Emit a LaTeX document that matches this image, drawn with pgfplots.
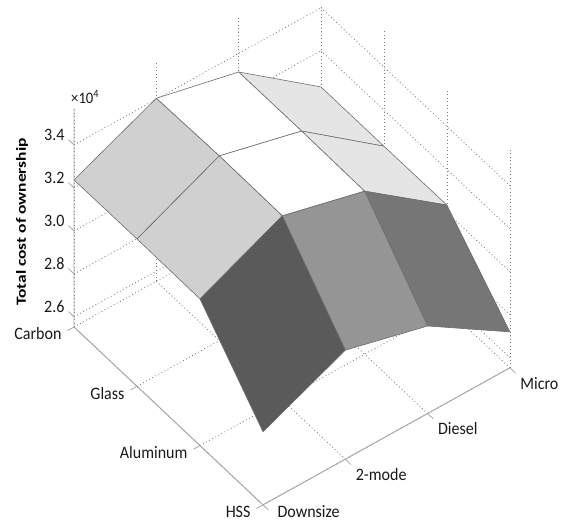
\documentclass[border=0pt]{standalone}
\usepackage{pgfplots}
\pgfplotsset{compat=1.18}
\usepackage{pgfplotstable}
\usepackage{fontspec}
\setmainfont[FakeStretch=0.92]{Carlito}
\newfontfamily\lab[FakeStretch=1.25]{Carlito}
\definecolor{axl}{HTML}{A7A9AC}
\definecolor{edge}{HTML}{6D6E70}
\pgfplotstableread{
x y z c
0 3 3.032 0.89
0 2 3.314 0.89
1 2 3.315 0.89
1 3 3.032 0.89
0 2 3.314 1.00
0 1 3.404 1.00
1 1 3.412 1.00
1 2 3.315 1.00
0 1 3.404 0.81
0 0 3.237 0.81
1 0 3.238 0.81
1 1 3.412 0.81
1 3 3.032 0.89
1 2 3.315 0.89
2 2 3.311 0.89
2 3 3.034 0.89
1 2 3.315 1.00
1 1 3.412 1.00
2 1 3.409 1.00
2 2 3.311 1.00
1 1 3.412 0.81
1 0 3.238 0.81
2 0 3.235 0.81
2 1 3.409 0.81
2 3 3.034 0.46
2 2 3.311 0.46
3 2 2.960 0.46
3 3 2.720 0.46
2 2 3.311 0.58
2 1 3.409 0.58
3 1 3.060 0.58
3 2 2.960 0.58
2 1 3.409 0.35
2 0 3.235 0.35
3 0 2.893 0.35
3 1 3.060 0.35
}\patches
\begin{document}
\begin{tikzpicture}[x=1bp,y=1bp]
\path[use as bounding box] (0,0) rectangle (568,524);
\clip (0,0) rectangle (568,517);
\begin{axis}[
  at={(74bp,197bp)}, anchor=origin,
  disabledatascaling,
  x={(63bp,-59.3bp)}, y={(82.3bp,45.7bp)}, z={(0bp,215bp)},
  xmin=0,xmax=3,ymin=0,ymax=3,zmin=2.553,zmax=3.57,
  clip=false,
  axis line style={draw=none},
  xtick={0,1,2,3}, ytick={1,2,3}, ztick={2.6,2.8,3.0,3.2,3.4},
  extra y ticks={0}, extra y tick labels={},
  xticklabels={Carbon,Glass,Aluminum,HSS},
  yticklabels={2-mode,Diesel,Micro},
  tick style={draw=none},
  major tick length=0pt,
  grid=major,
  grid style={dash pattern=on 0.9bp off 2.6bp,draw=black!52,line width=0.8pt},
  ticklabel style={font=\fontsize{17.5}{17.5}\selectfont,text=black!90},
  xticklabel style={anchor=east,xshift=-9bp,yshift=-7bp},
  yticklabel style={anchor=west,xshift=7bp,yshift=-15.5bp},
  zticklabel style={anchor=east,xshift=-6bp,yshift=10bp,/pgf/number format/fixed,/pgf/number format/fixed zerofill,/pgf/number format/precision=1},
  /pgf/number format/assume math mode=true,
  colormap={g}{gray(0cm)=(0); gray(1cm)=(1)},
  point meta min=0, point meta max=1,
]
\addplot3[patch,patch type=rectangle,shader=faceted,faceted color=edge,line width=0.6pt,point meta=explicit]
  table[x=x,y=y,z=z,meta=c]{\patches};
\addplot3[draw=axl,line width=1pt] coordinates {(0,0,3.57) (0,0,2.553) (3,0,2.553) (3,3,2.553)};
\addplot3[draw=axl,line width=0.8pt,unbounded coords=jump] coordinates {
(0,0,2.553) (0,-0.08,2.553) (nan,nan,nan)
(1,0,2.553) (1,-0.08,2.553) (nan,nan,nan)
(2,0,2.553) (2,-0.08,2.553) (nan,nan,nan)
(3,0,2.553) (3,-0.08,2.553) (nan,nan,nan)
(3,0,2.553) (3.09,0,2.553) (nan,nan,nan)
(3,1,2.553) (3.09,1,2.553) (nan,nan,nan)
(3,2,2.553) (3.09,2,2.553) (nan,nan,nan)
(3,3,2.553) (3.09,3,2.553) (nan,nan,nan)
(0,0,2.6) (-0.09,0,2.6) (nan,nan,nan)
(0,0,2.8) (-0.09,0,2.8) (nan,nan,nan)
(0,0,3.0) (-0.09,0,3.0) (nan,nan,nan)
(0,0,3.2) (-0.09,0,3.2) (nan,nan,nan)
(0,0,3.4) (-0.09,0,3.4)
};
\node[anchor=west,font=\fontsize{16}{16}\selectfont,text=black!90,inner sep=0pt,xshift=-3bp,yshift=11bp] at (axis cs:0,0,3.57) {×10\textsuperscript{4}};
\node[anchor=west,font=\fontsize{17.5}{17.5}\selectfont,text=black!90,xshift=11bp,yshift=-7bp] at (axis cs:3,0,2.553) {Downsize};
\end{axis}
\node[rotate=90,font=\lab\bfseries\fontsize{14}{14}\selectfont] at (22,302) {Total cost of ownership};
\end{tikzpicture}
\end{document}
